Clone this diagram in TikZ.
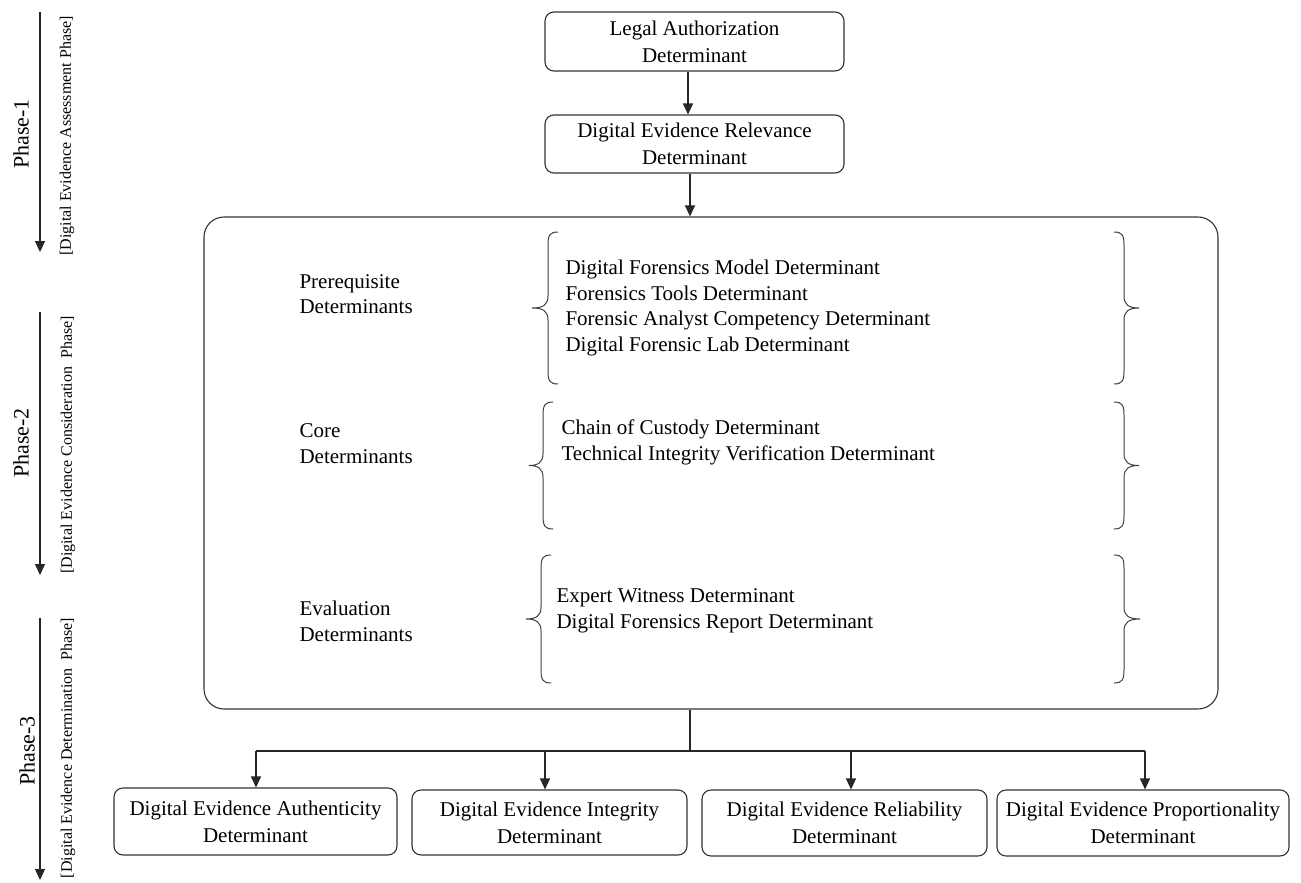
\documentclass[tikz,border=0pt]{standalone}
\usepackage{fontspec}
\setmainfont{Liberation Serif}
\usetikzlibrary{arrows.meta}

% left curly brace: stem x, tip x, top y, bottom y
\newcommand\lbrc[4]{%
  \draw[brc] (#1+10,#3) .. controls (#1+2,#3) and (#1,#3+3) .. (#1,#3+13)
    -- (#1,{(#3+#4)/2-12}) .. controls (#1,{(#3+#4)/2-3}) and (#1-5,{(#3+#4)/2}) .. (#2,{(#3+#4)/2})
    .. controls (#1-5,{(#3+#4)/2}) and (#1,{(#3+#4)/2+3}) .. (#1,{(#3+#4)/2+12})
    -- (#1,#4-13) .. controls (#1,#4-3) and (#1+2,#4) .. (#1+10,#4);}
% right curly brace: stem x, tip x, top y, bottom y
\newcommand\rbrc[4]{%
  \draw[brc] (#1-10,#3) .. controls (#1-2,#3) and (#1,#3+3) .. (#1,#3+13)
    -- (#1,{(#3+#4)/2-12}) .. controls (#1,{(#3+#4)/2-3}) and (#1+5,{(#3+#4)/2}) .. (#2,{(#3+#4)/2})
    .. controls (#1+5,{(#3+#4)/2}) and (#1,{(#3+#4)/2+3}) .. (#1,{(#3+#4)/2+12})
    -- (#1,#4-13) .. controls (#1,#4-3) and (#1-2,#4) .. (#1-10,#4);}

\begin{document}
\begin{tikzpicture}[x=1pt,y=-1pt,
  line width=1.1pt, draw=black!85,
  box/.style={draw=black!80, rounded corners=9pt, align=center, inner sep=0pt,
    font=\fontsize{21}{27}\selectfont},
  lbl/.style={align=left, inner sep=0pt, anchor=west,
    font=\fontsize{21}{25.5}\selectfont},
  brc/.style={draw=black!75, line width=1pt},
  arr/.style={draw=black!85, -{Triangle[width=10pt,length=11pt]}},
  phase/.style={rotate=90, inner sep=0pt, font=\fontsize{22}{26}\selectfont},
  phasesub/.style={rotate=90, inner sep=0pt, font=\fontsize{16}{18}\selectfont}]

\useasboundingbox[fill=white] (0,0) rectangle (1301,883);

% phase markers on the left
\node[phase] (ph1) at (21,134) {Phase-1};
\node[phase] (ph2) at (21,443) {Phase-2};
\node[phase] (ph3) at (27,751) {Phase-3};
\node[phasesub] (ps1) at (67,136) {[Digital Evidence Assessment Phase]};
\node[phasesub] (ps2) at (68,445) {[Digital Evidence Consideration\ \ Phase]};
\node[phasesub] (ps3) at (68,748) {[Digital Evidence Determination\ \ Phase]};
\coordinate (a1s) at (40,12);  \coordinate (a1e) at (40,252);
\coordinate (a2s) at (40,312); \coordinate (a2e) at (40,575);
\coordinate (a3s) at (40,618); \coordinate (a3e) at (40,880);
\draw[arr] (a1s) -- (a1e);
\draw[arr] (a2s) -- (a2e);
\draw[arr] (a3s) -- (a3e);

% phase 1 boxes
\node[box, minimum width=299pt, minimum height=59pt] (legal) at (694.5,41.5)
  {Legal Authorization\\Determinant};
\node[box, minimum width=299pt, minimum height=58pt] (rel) at (694.5,144)
  {Digital Evidence Relevance\\Determinant};

% phase 2 container
\node[draw=black!80, rounded corners=20pt, minimum width=1014pt, minimum height=492pt,
  inner sep=0pt] (big) at (711,463) {};

\coordinate (c1) at ([xshift=-6.5pt]legal.south);
\coordinate (c2) at ([xshift=-4.5pt]rel.south);
\draw[arr] (c1) -- (c1 |- rel.north);
\draw[arr] (c2) -- (c2 |- big.north);

% group labels
\node[lbl] (prel) at (299,294) {Prerequisite\\Determinants};
\node[lbl] (corel) at (299,443.5) {Core\\Determinants};
\node[lbl] (evall) at (299,621.5) {Evaluation\\Determinants};

% group contents
\node[lbl] (pret) at (565,308) {Digital Forensics Model Determinant\\
  Forensics Tools Determinant\\Forensic Analyst Competency Determinant\\
  Digital Forensic Lab Determinant};
\node[lbl] (coret) at (561,442.5) {Chain of Custody Determinant\\
  Technical Integrity Verification Determinant};
\node[lbl] (evalt) at (556,611) {Expert Witness Determinant\\
  Digital Forensics Report Determinant};

% braces
\lbrc{548}{532}{232}{384}
\rbrc{1124}{1139}{232}{384}
\lbrc{543}{529}{402}{529}
\rbrc{1124}{1139}{402}{529}
\lbrc{541}{526}{555}{683}
\rbrc{1124}{1140}{555}{683}

% phase 3 boxes
\node[box, minimum width=283pt, minimum height=67pt] (auth) at (255.5,821.5)
  {Digital Evidence Authenticity\\Determinant};
\node[box, minimum width=275pt, minimum height=65pt] (integ) at (549.5,822.5)
  {Digital Evidence Integrity\\Determinant};
\node[box, minimum width=285pt, minimum height=66pt] (relia) at (844.5,823)
  {Digital Evidence Reliability\\Determinant};
\node[box, minimum width=292pt, minimum height=66pt] (prop) at (1143,823)
  {Digital Evidence Proportionality\\Determinant};

% distribution bus
\coordinate (hub) at (690,751);
\coordinate (t1) at (256,751);
\coordinate (t2) at (545,751);
\coordinate (t3) at (851,751);
\coordinate (t4) at (1145,751);
\draw (big.south -| hub) -- (hub);
\draw (t1) -- (t4);
\draw[arr] (t1) -- (t1 |- auth.north);
\draw[arr] (t2) -- (t2 |- integ.north);
\draw[arr] (t3) -- (t3 |- relia.north);
\draw[arr] (t4) -- (t4 |- prop.north);
\end{tikzpicture}
\end{document}
